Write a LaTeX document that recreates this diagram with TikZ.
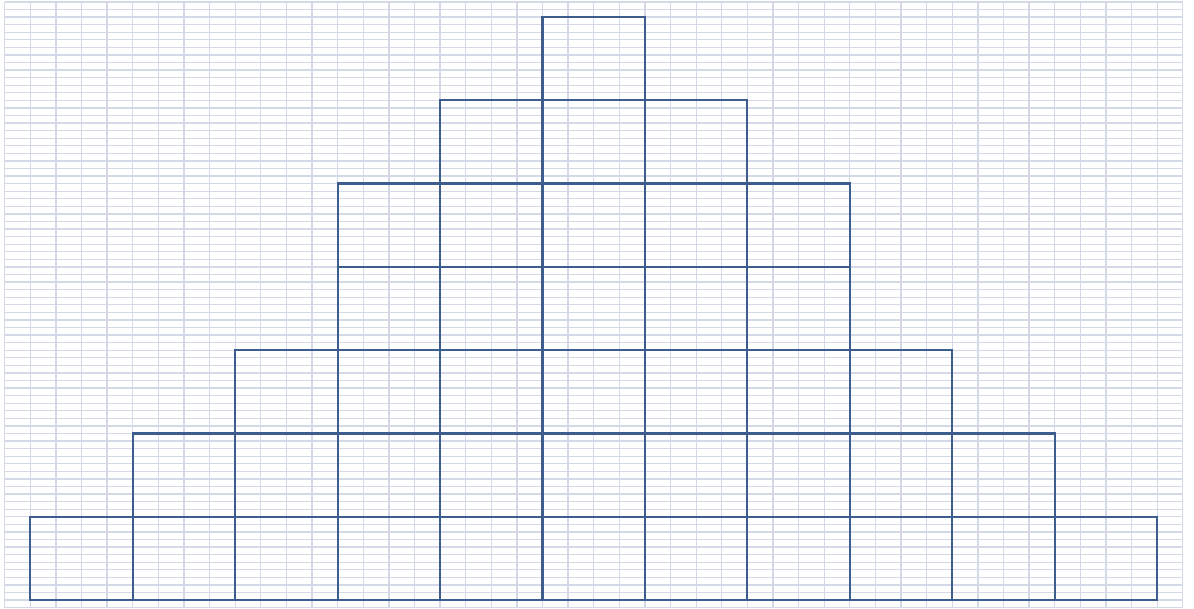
\documentclass[tikz,border=0pt]{standalone}
\definecolor{gridc}{HTML}{D3D9E6}
\definecolor{boxc}{HTML}{3C5D8D}
\tikzset{
  gridline/.style={gridc,line width=1.3pt},
  cellbox/.style={boxc,line width=2.2pt,line join=miter}
}
\begin{document}
\begin{tikzpicture}[x=1pt,y=-1pt]
\useasboundingbox (0,0) rectangle (1194,608);
% spreadsheet grid
\foreach \k in {0,...,46}
  \draw[gridline] ({4.7+25.61*\k},1.9) -- ({4.7+25.61*\k},608);
\foreach \k in {0,...,80}
  \draw[gridline] (4.7,{1.9+7.572*\k}) -- (1182.8,{1.9+7.572*\k});
% pyramid of boxes
\foreach \r/\a/\b in {0/0/10,1/1/9,2/2/8,3/3/7,4/3/7,5/4/6,6/5/5}
  \foreach \c in {\a,...,\b}
    \draw[cellbox] ({30.3+102.44*\c},{600-83.3*\r}) rectangle ({30.3+102.44*(\c+1)},{600-83.3*(\r+1)});
\end{tikzpicture}
\end{document}
